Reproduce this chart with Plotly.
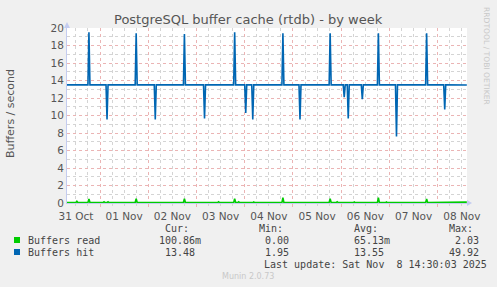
import plotly.graph_objects as go

# ---------------- data ----------------
hit_times = [
    "2025-10-31 07:30",
    "2025-10-31 18:00", "2025-10-31 18:30", "2025-10-31 19:00",
    "2025-11-01 03:00", "2025-11-01 03:30", "2025-11-01 04:00",
    "2025-11-01 17:30", "2025-11-01 18:00", "2025-11-01 18:30",
    "2025-11-02 03:00", "2025-11-02 03:30", "2025-11-02 04:00",
    "2025-11-02 17:30", "2025-11-02 18:00", "2025-11-02 18:30",
    "2025-11-03 03:30", "2025-11-03 04:00", "2025-11-03 04:30",
    "2025-11-03 18:30", "2025-11-03 19:00", "2025-11-03 19:30",
    "2025-11-04 00:00", "2025-11-04 00:30", "2025-11-04 01:00",
    "2025-11-04 03:30", "2025-11-04 04:00", "2025-11-04 04:30",
    "2025-11-04 18:30", "2025-11-04 19:00", "2025-11-04 19:30",
    "2025-11-05 03:00", "2025-11-05 03:30", "2025-11-05 04:00",
    "2025-11-05 18:00", "2025-11-05 18:30", "2025-11-05 19:00",
    "2025-11-06 01:00", "2025-11-06 01:30", "2025-11-06 02:00",
    "2025-11-06 03:00", "2025-11-06 03:30", "2025-11-06 04:00",
    "2025-11-06 10:00", "2025-11-06 10:30", "2025-11-06 11:00",
    "2025-11-06 18:00", "2025-11-06 18:30", "2025-11-06 19:00",
    "2025-11-07 03:00", "2025-11-07 03:30", "2025-11-07 04:00",
    "2025-11-07 18:00", "2025-11-07 18:30", "2025-11-07 19:00",
    "2025-11-08 03:00", "2025-11-08 03:30", "2025-11-08 04:00",
    "2025-11-08 14:30",
]
hit_values = [
    13.5,
    13.5, 19.5, 13.5,
    13.5, 9.55, 13.5,
    13.5, 19.4, 13.5,
    13.5, 9.55, 13.5,
    13.5, 19.3, 13.5,
    13.5, 9.65, 13.5,
    13.5, 19.5, 13.5,
    13.5, 10.3, 13.5,
    13.5, 9.55, 13.5,
    13.5, 19.4, 13.5,
    13.5, 9.55, 13.5,
    13.5, 19.4, 13.5,
    13.5, 12.1, 13.5,
    13.5, 9.65, 13.5,
    13.5, 11.85, 13.5,
    13.5, 19.4, 13.5,
    13.5, 7.6, 13.5,
    13.5, 19.4, 13.5,
    13.5, 10.7, 13.5,
    13.48,
]

read_times = [
    "2025-10-31 07:30",
    "2025-10-31 12:00", "2025-10-31 12:30", "2025-10-31 13:00",
    "2025-10-31 18:00", "2025-10-31 18:30", "2025-10-31 19:00",
    "2025-11-01 01:30", "2025-11-01 02:00", "2025-11-01 02:30",
    "2025-11-01 03:30", "2025-11-01 04:00", "2025-11-01 04:30",
    "2025-11-01 06:00", "2025-11-01 06:30", "2025-11-01 07:00",
    "2025-11-01 17:30", "2025-11-01 18:00", "2025-11-01 18:30",
    "2025-11-02 17:30", "2025-11-02 18:00", "2025-11-02 18:30",
    "2025-11-03 10:30", "2025-11-03 11:00", "2025-11-03 11:30",
    "2025-11-03 18:30", "2025-11-03 19:00", "2025-11-03 19:30",
    "2025-11-03 20:30", "2025-11-03 21:00", "2025-11-03 21:30",
    "2025-11-04 04:00", "2025-11-04 04:30", "2025-11-04 05:00",
    "2025-11-04 07:30", "2025-11-04 08:00", "2025-11-04 08:30",
    "2025-11-04 11:00", "2025-11-04 11:30", "2025-11-04 12:00",
    "2025-11-04 18:30", "2025-11-04 19:00", "2025-11-04 19:30",
    "2025-11-05 18:00", "2025-11-05 18:30", "2025-11-05 19:00",
    "2025-11-05 21:30", "2025-11-05 22:00", "2025-11-05 22:30",
    "2025-11-06 06:00", "2025-11-06 06:30", "2025-11-06 07:00",
    "2025-11-06 18:00", "2025-11-06 18:30", "2025-11-06 19:00",
    "2025-11-06 22:00", "2025-11-06 22:30", "2025-11-06 23:00",
    "2025-11-07 18:00", "2025-11-07 18:30", "2025-11-07 19:00",
    "2025-11-08 14:30",
]
read_values = [
    0.05,
    0.05, 0.2, 0.05,
    0.05, 0.45, 0.05,
    0.05, 0.15, 0.05,
    0.05, 0.15, 0.05,
    0.05, 0.12, 0.05,
    0.05, 0.5, 0.05,
    0.05, 0.5, 0.05,
    0.05, 0.15, 0.05,
    0.05, 0.5, 0.05,
    0.05, 0.15, 0.05,
    0.05, 0.12, 0.05,
    0.05, 0.12, 0.05,
    0.05, 0.12, 0.05,
    0.05, 0.6, 0.05,
    0.05, 0.5, 0.05,
    0.05, 0.15, 0.05,
    0.05, 0.12, 0.05,
    0.05, 0.6, 0.05,
    0.05, 0.12, 0.05,
    0.05, 0.45, 0.05,
    0.1,
]

series_names = ["Buffers read", "Buffers hit"]
series_colors = ["#00CC00", "#0066B3"]
stat_cur = ["100.86m", "13.48"]
stat_min = ["0.00", "1.95"]
stat_avg = ["65.13m", "13.55"]
stat_max = ["2.03", "49.92"]

title_text = "PostgreSQL buffer cache (rtdb) - by week"
y_title = "Buffers / second"
last_update = "Last update: Sat Nov  8 14:30:03 2025"
x_range = ["2025-10-31 07:35", "2025-11-08 14:35"]

# ---------------- layout helpers (pixel -> paper) ----------------
W, H = 497, 287
ML, MR, MT, MB = 67, 30, 28, 84
PW, PH = W - ML - MR, H - MT - MB


def px(x):
    return (x - ML) / PW


def py(y):
    return (H - MB - y) / PH


fig = go.Figure()
fig.add_trace(go.Scatter(x=read_times, y=read_values, mode="lines",
                         line=dict(color=series_colors[0], width=1.6),
                         hoverinfo="skip", showlegend=False))
fig.add_trace(go.Scatter(x=hit_times, y=hit_values, mode="lines",
                         line=dict(color=series_colors[1], width=1.6),
                         hoverinfo="skip", showlegend=False))

major_grid = "#EBB4B4"
minor_grid = "#D4D4D4"
axis_col = "#C4CCF0"
tick_font = dict(family="DejaVu Sans", size=10.5, color="#555555")

fig.update_layout(
    width=W, height=H, autosize=False,
    margin=dict(l=ML, r=MR, t=MT, b=MB, pad=0),
    paper_bgcolor="#F0F0F0", plot_bgcolor="#FFFFFF",
    showlegend=False,
    xaxis=dict(
        type="date", range=x_range,
        tick0="2025-10-31 00:00", dtick=86400000,
        tickformat="%d %b", ticklabelmode="period",
        showgrid=True, gridcolor=major_grid, griddash="dot", gridwidth=1,
        ticks="outside", ticklen=3, tickcolor=major_grid,
        minor=dict(dtick=21600000, showgrid=True, gridcolor=minor_grid,
                   griddash="dot", ticks="outside", ticklen=2, tickcolor=minor_grid),
        showline=True, linecolor=axis_col, linewidth=1,
        zeroline=False, tickfont=tick_font, fixedrange=True,
    ),
    yaxis=dict(
        range=[0, 20], tick0=0, dtick=2,
        showgrid=True, gridcolor=major_grid, griddash="dot", gridwidth=1,
        minor=dict(dtick=1, showgrid=True, gridcolor=minor_grid, griddash="dot"),
        showline=True, linecolor=axis_col, linewidth=1,
        zeroline=False, tickfont=tick_font, ticks="", fixedrange=True,
    ),
)

annotations = []
# title
annotations.append(dict(x=px(248), y=py(19), xref="paper", yref="paper",
                        text=title_text, showarrow=False,
                        xanchor="center", yanchor="middle",
                        font=dict(family="DejaVu Sans", size=13, color="#555555")))
# y-axis title
annotations.append(dict(x=px(10), y=py(114), xref="paper", yref="paper",
                        text=y_title, showarrow=False, textangle=-90,
                        xanchor="center", yanchor="middle",
                        font=dict(family="DejaVu Sans", size=11, color="#555555")))
# watermark
annotations.append(dict(x=px(487), y=py(56), xref="paper", yref="paper",
                        text="RRDTOOL / TOBI OETIKER", showarrow=False, textangle=90,
                        xanchor="center", yanchor="middle",
                        font=dict(family="DejaVu Sans", size=7.6, color="#C8C8C8")))
# munin version
annotations.append(dict(x=px(248), y=py(276), xref="paper", yref="paper",
                        text="Munin 2.0.73", showarrow=False,
                        xanchor="center", yanchor="middle",
                        font=dict(family="DejaVu Sans", size=8, color="#C8C8C8")))

mono = dict(family="DejaVu Sans Mono", size=10, color="#444444")


def txt(x, y, s):
    annotations.append(dict(x=px(x), y=py(y), xref="paper", yref="paper",
                            text=s.replace(" ", "\u00a0"), showarrow=False,
                            xanchor="left", yanchor="middle", font=mono))


# legend header
txt(163, 228, "Cur:")
txt(257, 228, "Min:")
txt(351.5, 228, "Avg:")
txt(446.5, 228, "Max:")
row_y = [240, 252]
for i in range(2):
    y = row_y[i]
    txt(26, y, series_names[i])
    txt(199 - 6 * len(stat_cur[i]) - (0 if stat_cur[i].endswith("m") else 6), y, stat_cur[i])
    txt(263.3, y, stat_min[i])
    txt(351.5, y, stat_avg[i])
    txt(476.7 - 6 * len(stat_max[i]), y, stat_max[i])
txt(261.5, 264, last_update)

fig.update_layout(annotations=annotations)

shapes = []
for i in range(2):
    y = row_y[i]
    shapes.append(dict(type="rect", xref="paper", yref="paper",
                       x0=px(14), x1=px(20), y0=py(y - 3), y1=py(y + 3),
                       fillcolor=series_colors[i], line=dict(width=0)))
# axis arrows
shapes.append(dict(type="path", xref="paper", yref="paper",
                   path="M %f %f L %f %f L %f %f Z" % (px(64), py(28), px(67), py(22), px(70), py(28)),
                   fillcolor=axis_col, line=dict(width=0)))
shapes.append(dict(type="path", xref="paper", yref="paper",
                   path="M %f %f L %f %f L %f %f Z" % (px(467), py(200), px(472), py(203), px(467), py(206)),
                   fillcolor=axis_col, line=dict(width=0)))
fig.update_layout(shapes=shapes)

fig.write_html("out.html", config={"displayModeBar": False, "staticPlot": True})
